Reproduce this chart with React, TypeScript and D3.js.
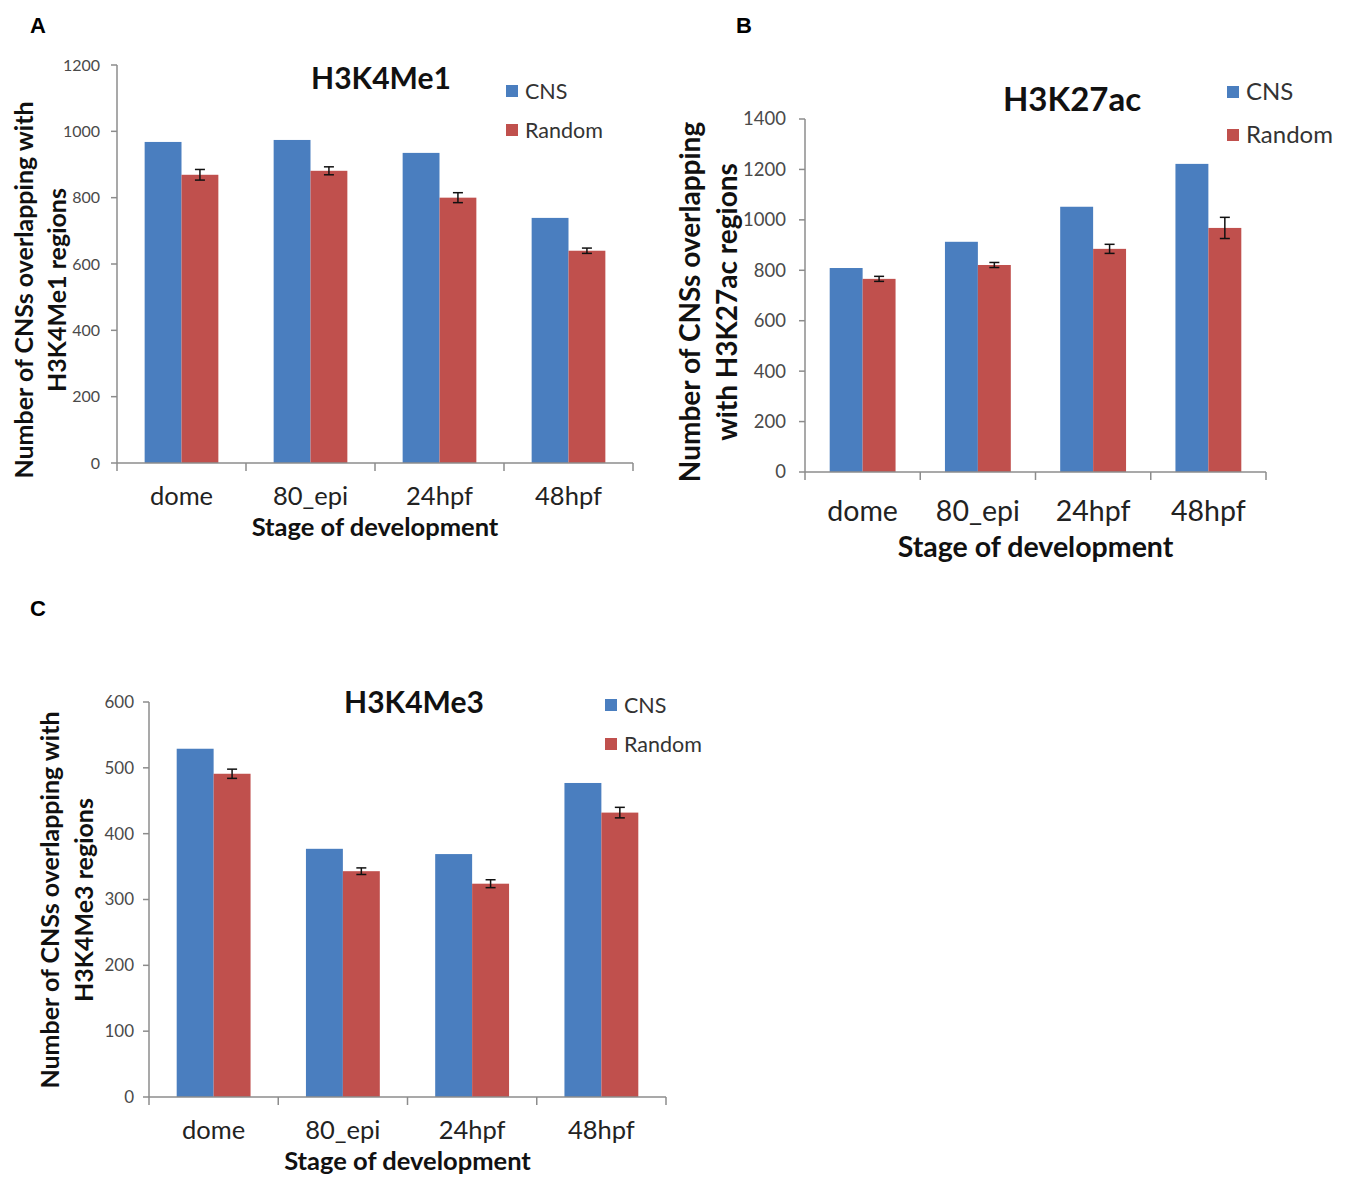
import * as d3 from "d3";

// ── Data ─────────────────────────────────────────────────────────────────────
const STAGES = ["dome", "80_epi", "24hpf", "48hpf"];
const SERIES = ["CNS", "Random"];

const ME1_CNS = [968, 974, 935, 739];
const ME1_RANDOM = [869, 881, 800, 640];
const ME1_ERR = [16, 12, 15, 8];
const ME1_TICKS = [0, 200, 400, 600, 800, 1000, 1200];

const K27_CNS = [809, 913, 1052, 1222];
const K27_RANDOM = [766, 821, 885, 968];
const K27_ERR = [10, 10, 18, 42];
const K27_TICKS = [0, 200, 400, 600, 800, 1000, 1200, 1400];

const ME3_CNS = [529, 377, 369, 477];
const ME3_RANDOM = [491, 343, 324, 432];
const ME3_ERR = [7, 5, 6, 8];
const ME3_TICKS = [0, 100, 200, 300, 400, 500, 600];

const BLUE = "#4a7ebf";
const RED = "#c0504d";
const AXIS = "#8c8c8c";
const FONT = "Lato, 'Open Sans', sans-serif";

type PanelProps = {
  letter: string;
  letterPos: [number, number];
  title: string;
  titlePos: [number, number];
  titleSize: number;
  cns: number[];
  random: number[];
  err: number[];
  ticks: number[];
  x0: number;
  x1: number;
  y0: number;
  yTop: number;
  tickSize: number;
  tickGap: number;
  catSize: number;
  catY: number;
  xTitleSize: number;
  xTitleY: number;
  yTitle: [string, string];
  yTitleSize: number;
  yTitleX: [number, number];
  yTitleY: number;
  legendPos: [number, number];
  legendGap: number;
  legendSize: number;
};

function Panel(p: PanelProps) {
  const x = d3.scaleBand().domain(STAGES).range([p.x0, p.x1]);
  const y = d3
    .scaleLinear()
    .domain([0, p.ticks[p.ticks.length - 1]])
    .range([p.y0, p.yTop]);
  // Excel-style clustered bars, gap width 150%
  const bw = x.bandwidth() / 3.5;
  const inner = d3.scaleBand().domain(SERIES).range([0, bw * 2]);
  const off = (x.bandwidth() - bw * 2) / 2;
  const vals = [p.cns, p.random];
  const colors = [BLUE, RED];

  return (
    <g fontFamily={FONT}>
      <text x={p.letterPos[0]} y={p.letterPos[1]} fontSize={22} fontWeight={700} fontFamily="'Liberation Sans', Arial, sans-serif">
        {p.letter}
      </text>
      <text x={p.titlePos[0]} y={p.titlePos[1]} fontSize={p.titleSize} fontWeight={700} textAnchor="middle" fill="#111">
        {p.title}
      </text>

      {/* bars */}
      {SERIES.map((s, si) =>
        STAGES.map((st, i) => (
          <rect
            key={s + st}
            x={(x(st) as number) + off + (inner(s) as number)}
            y={y(vals[si][i])}
            width={bw}
            height={p.y0 - y(vals[si][i])}
            fill={colors[si]}
          />
        ))
      )}

      {/* error bars on Random */}
      {STAGES.map((st, i) => {
        const cx = (x(st) as number) + off + (inner("Random") as number) + bw / 2;
        const hi = y(p.random[i] + p.err[i]);
        const lo = y(p.random[i] - p.err[i]);
        return (
          <g key={"e" + st} stroke="#111" strokeWidth={1.5}>
            <line x1={cx} x2={cx} y1={hi} y2={lo} />
            <line x1={cx - 5} x2={cx + 5} y1={hi} y2={hi} />
            <line x1={cx - 5} x2={cx + 5} y1={lo} y2={lo} />
          </g>
        );
      })}

      {/* y axis */}
      <line x1={p.x0} x2={p.x0} y1={p.yTop} y2={p.y0} stroke={AXIS} strokeWidth={1.5} />
      {p.ticks.map((t) => (
        <g key={"t" + t}>
          <line x1={p.x0 - 6} x2={p.x0} y1={y(t)} y2={y(t)} stroke={AXIS} strokeWidth={1.5} />
          <text
            x={p.x0 - p.tickGap}
            y={y(t)}
            dy="0.35em"
            fontSize={p.tickSize}
            textAnchor="end"
            fill="#4a4a4a"
          >
            {t}
          </text>
        </g>
      ))}

      {/* x axis */}
      <line x1={p.x0} x2={p.x1} y1={p.y0} y2={p.y0} stroke={AXIS} strokeWidth={1.5} />
      {[...STAGES.map((s) => x(s) as number), p.x1].map((v, i) => (
        <line key={"xt" + i} x1={v} x2={v} y1={p.y0} y2={p.y0 + 8} stroke={AXIS} strokeWidth={1.5} />
      ))}
      {STAGES.map((st) => (
        <text
          key={"c" + st}
          x={(x(st) as number) + x.bandwidth() / 2}
          y={p.catY}
          fontSize={p.catSize}
          textAnchor="middle"
          fill="#222"
        >
          {st}
        </text>
      ))}
      <text
        x={(p.x0 + p.x1) / 2}
        y={p.xTitleY}
        fontSize={p.xTitleSize}
        fontWeight={700}
        textAnchor="middle"
        fill="#111"
      >
        Stage of development
      </text>

      {/* y title */}
      {p.yTitle.map((line, i) => (
        <text
          key={"yt" + i}
          transform={`translate(${p.yTitleX[i]},${p.yTitleY}) rotate(-90)`}
          fontSize={p.yTitleSize}
          fontWeight={700}
          textAnchor="middle"
          dy="0.35em"
          fill="#111"
        >
          {line}
        </text>
      ))}

      {/* legend */}
      {SERIES.map((s, i) => (
        <g key={"l" + s} transform={`translate(${p.legendPos[0]},${p.legendPos[1] + i * p.legendGap})`}>
          <rect x={0} y={-6} width={12} height={12} fill={colors[i]} />
          <text x={19} y={0} dy="0.35em" fontSize={p.legendSize} fill="#333">
            {s}
          </text>
        </g>
      ))}
    </g>
  );
}

export default function App() {
  return (
    <svg width={1346} height={1178} style={{ position: "absolute", left: 0, top: 0, display: "block" }}>
      <rect width={1346} height={1178} fill="#fff" />
      <Panel
        letter="A"
        letterPos={[30, 33]}
        title="H3K4Me1"
        titlePos={[381, 89]}
        titleSize={30}
        cns={ME1_CNS}
        random={ME1_RANDOM}
        err={ME1_ERR}
        ticks={ME1_TICKS}
        x0={117}
        x1={633}
        y0={463}
        yTop={65}
        tickSize={16}
        tickGap={17}
        catSize={25.5}
        catY={505}
        xTitleSize={25.5}
        xTitleY={536}
        yTitle={["Number of CNSs overlapping with", "H3K4Me1 regions"]}
        yTitleSize={25}
        yTitleX={[24, 57]}
        yTitleY={290}
        legendPos={[506, 91]}
        legendGap={39}
        legendSize={21.5}
      />
      <Panel
        letter="B"
        letterPos={[736, 33]}
        title="H3K27ac"
        titlePos={[1072, 111]}
        titleSize={33}
        cns={K27_CNS}
        random={K27_RANDOM}
        err={K27_ERR}
        ticks={K27_TICKS}
        x0={805}
        x1={1266}
        y0={472}
        yTop={119}
        tickSize={18.5}
        tickGap={19}
        catSize={28.5}
        catY={521}
        xTitleSize={28.5}
        xTitleY={557}
        yTitle={["Number of CNSs overlapping", "with H3K27ac regions"]}
        yTitleSize={28}
        yTitleX={[690, 727]}
        yTitleY={302}
        legendPos={[1227, 92]}
        legendGap={43}
        legendSize={24}
      />
      <Panel
        letter="C"
        letterPos={[30, 616]}
        title="H3K4Me3"
        titlePos={[414, 713]}
        titleSize={30}
        cns={ME3_CNS}
        random={ME3_RANDOM}
        err={ME3_ERR}
        ticks={ME3_TICKS}
        x0={149}
        x1={666}
        y0={1097}
        yTop={702}
        tickSize={17}
        tickGap={15}
        catSize={25.5}
        catY={1139}
        xTitleSize={25.5}
        xTitleY={1170}
        yTitle={["Number of CNSs overlapping with", "H3K4Me3 regions"]}
        yTitleSize={25}
        yTitleX={[50, 84]}
        yTitleY={900}
        legendPos={[605, 705]}
        legendGap={39}
        legendSize={21.5}
      />
    </svg>
  );
}
